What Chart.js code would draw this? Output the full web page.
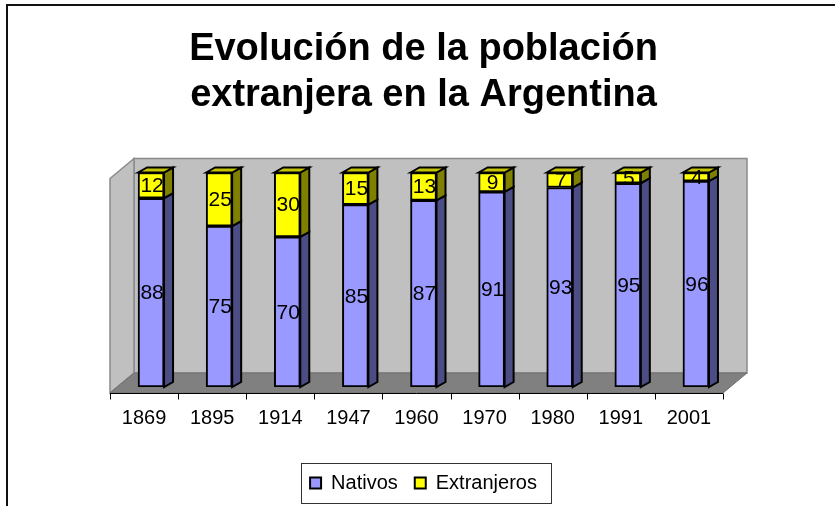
<!DOCTYPE html>
<html><head><meta charset="utf-8">
<script src="https://cdn.jsdelivr.net/npm/chart.js@4/dist/chart.umd.min.js"></script>
<style>html,body{margin:0;padding:0;background:#fff;overflow:hidden}#wrap{width:835px;height:506px;position:relative}</style>
</head><body><div id="wrap"><canvas id="c" width="835" height="506"></canvas></div>
<script>
const categories = ['1869','1895','1914','1947','1960','1970','1980','1991','2001'];
const nativos = [88,75,70,85,87,91,93,95,96];
const extranjeros = [12,25,30,15,13,9,7,5,4];
const seriesNames = ['Nativos','Extranjeros'];
const titleLines = ['Evolución de la población','extranjera en la Argentina'];

const FONT = "'Liberation Sans', Arial, Helvetica, sans-serif";
const FRONT_COL = ['#9999FF','#FFFF00'];
const SIDE_COL = ['#4D4D85','#808000'];
const TOP_COL = ['#7A7ACC','#C4C400'];
const BD = {x: 9, y: -5};       // bar depth
const FRONT = {x: -7, y: 6};     // front floor edge offset vs bar plane
const BACK = {x: 17, y: -14};    // back wall offset vs bar plane

function poly(ctx, pts, fill, stroke, lw) {
  ctx.beginPath();
  ctx.moveTo(pts[0][0], pts[0][1]);
  for (let i = 1; i < pts.length; i++) ctx.lineTo(pts[i][0], pts[i][1]);
  ctx.closePath();
  if (fill) { ctx.fillStyle = fill; ctx.fill(); }
  if (stroke) { ctx.strokeStyle = stroke; ctx.lineWidth = lw || 1; ctx.stroke(); }
}

const threeD = {
  id: 'threeD',
  beforeDraw(chart) {
    const ctx = chart.ctx;
    ctx.save();
    ctx.strokeStyle = '#111';
    ctx.lineWidth = 2;
    ctx.beginPath();
    ctx.moveTo(7, 506); ctx.lineTo(7, 5); ctx.lineTo(835, 5);
    ctx.stroke();
    ctx.restore();
  },
  beforeDatasetsDraw(chart) {
    const ctx = chart.ctx, a = chart.chartArea;
    const L = a.left, R = a.right, T = a.top, B = a.bottom;
    ctx.save();
    // back wall
    poly(ctx, [[L+BACK.x, T+BACK.y],[R+BACK.x, T+BACK.y],[R+BACK.x, B+BACK.y],[L+BACK.x, B+BACK.y]], '#C0C0C0', '#8a8a8a', 1.5);
    // left wall
    poly(ctx, [[L+FRONT.x, T+FRONT.y],[L+BACK.x, T+BACK.y],[L+BACK.x, B+BACK.y],[L+FRONT.x, B+FRONT.y]], '#C0C0C0', '#8a8a8a', 1.5);
    // floor
    poly(ctx, [[L+FRONT.x, B+FRONT.y],[L+BACK.x, B+BACK.y],[R+BACK.x, B+BACK.y],[R+FRONT.x, B+FRONT.y]], '#808080', '#707070', 1);
    // axis line and ticks on the front floor edge
    const xs = chart.scales.x;
    const n = categories.length;
    ctx.strokeStyle = '#000';
    ctx.lineWidth = 1;
    ctx.beginPath();
    const yAx = Math.round(B + FRONT.y) + 0.5;
    ctx.moveTo(L + FRONT.x, yAx); ctx.lineTo(R + FRONT.x, yAx);
    for (let i = 0; i <= n; i++) {
      let bx;
      if (i === 0) bx = L;
      else if (i === n) bx = R;
      else bx = (xs.getPixelForValue(i - 1) + xs.getPixelForValue(i)) / 2;
      const px = Math.round(bx + FRONT.x) + 0.5;
      ctx.moveTo(px, yAx); ctx.lineTo(px, yAx + 6);
    }
    ctx.stroke();
    // bar side and top faces
    const metas = [chart.getDatasetMeta(0), chart.getDatasetMeta(1)];
    metas.forEach((meta, di) => {
      meta.data.forEach((el) => {
        const p = el.getProps(['x','y','base','width'], true);
        const xr = p.x + p.width / 2, xl = p.x - p.width / 2;
        const top = Math.min(p.y, p.base), bot = Math.max(p.y, p.base);
        poly(ctx, [[xr, top],[xr+BD.x, top+BD.y],[xr+BD.x, bot+BD.y],[xr, bot]], SIDE_COL[di], '#000', 2);
        if (di === metas.length - 1) {
          poly(ctx, [[xl, top],[xl+BD.x, top+BD.y],[xr+BD.x, top+BD.y],[xr, top]], TOP_COL[di], '#000', 2);
        }
      });
    });
    ctx.restore();
  },
  afterDatasetsDraw(chart) {
    const ctx = chart.ctx;
    ctx.save();
    ctx.fillStyle = '#000';
    ctx.font = '21px ' + FONT;
    ctx.textAlign = 'center';
    ctx.textBaseline = 'middle';
    chart.data.datasets.forEach((ds, di) => {
      chart.getDatasetMeta(di).data.forEach((el, i) => {
        const p = el.getProps(['x','y','base'], true);
        ctx.fillText(String(ds.data[i]), p.x + 1, (p.y + p.base) / 2 + 1);
      });
    });
    ctx.restore();
  },
  afterDraw(chart) {
    const hb = chart.legend && chart.legend.legendHitBoxes;
    if (!hb || !hb.length) return;
    const ctx = chart.ctx;
    const first = hb[0], last = hb[hb.length - 1];
    const l = Math.round(first.left - 9) + 0.5;
    const r = Math.round(last.left + last.width + 14) + 0.5;
    const t = Math.round(first.top - 10) + 0.5;
    const b = Math.round(first.top + first.height + 10) + 0.5;
    ctx.save();
    ctx.strokeStyle = '#333';
    ctx.lineWidth = 1;
    ctx.strokeRect(l, t, r - l, b - t);
    ctx.restore();
  }
};

new Chart(document.getElementById('c'), {
  type: 'bar',
  data: {
    labels: categories,
    datasets: [
      { label: seriesNames[0], data: nativos, backgroundColor: FRONT_COL[0], borderColor: '#000', borderWidth: 2, borderSkipped: false, barThickness: 26 },
      { label: seriesNames[1], data: extranjeros, backgroundColor: FRONT_COL[1], borderColor: '#000', borderWidth: 2, borderSkipped: false, barThickness: 26 }
    ]
  },
  options: {
    responsive: false,
    animation: false,
    events: [],
    layout: { padding: { left: 117, right: 105, top: 0, bottom: 3 } },
    scales: {
      x: {
        stacked: true,
        grid: { display: false, drawTicks: false },
        border: { display: false },
        ticks: { font: { family: FONT, size: 20 }, color: '#000', padding: 19, labelOffset: -7, maxRotation: 0, autoSkip: false },
        afterFit: (s) => { s.height = 69; }
      },
      y: { stacked: true, display: false, min: 0, max: 100 }
    },
    plugins: {
      title: {
        display: true,
        text: titleLines,
        color: '#000',
        font: { family: FONT, size: 38, weight: 'bold', lineHeight: 1.2 },
        padding: { top: 27, bottom: 54.3 }
      },
      legend: {
        position: 'bottom',
        labels: { font: { family: FONT, size: 20 }, color: '#000', boxWidth: 11, boxHeight: 11, padding: 17 }
      },
      tooltip: { enabled: false }
    }
  },
  plugins: [threeD]
});
</script>
</body></html>
